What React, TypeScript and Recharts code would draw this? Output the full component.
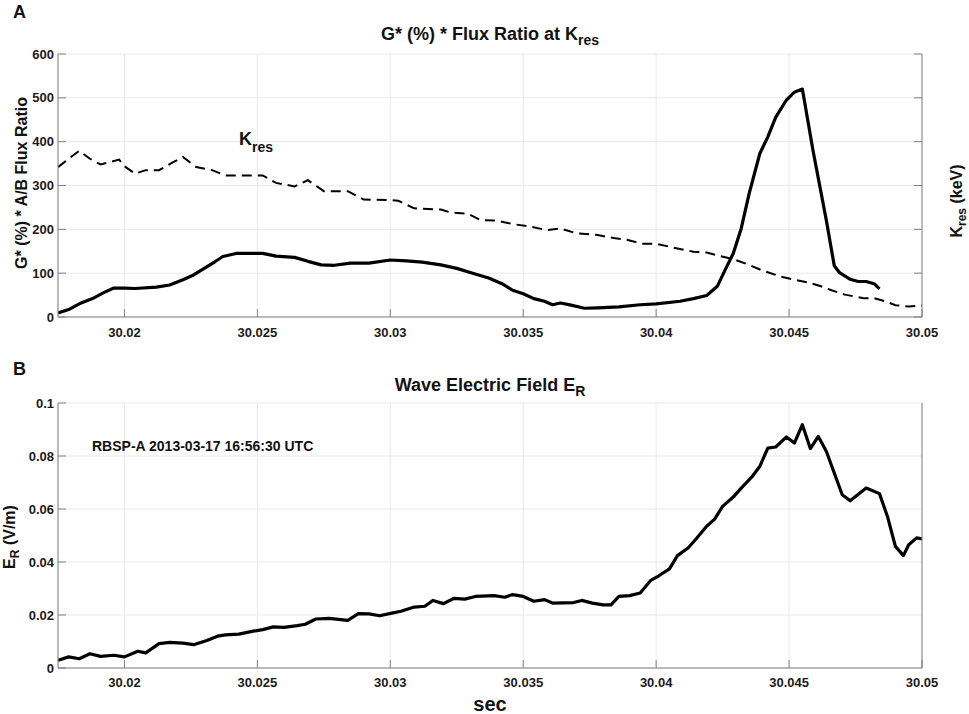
import React from 'react';
import { LineChart, Line, XAxis, YAxis, CartesianGrid } from 'recharts';

const FONT = '"Liberation Sans", Arial, Helvetica, sans-serif';
const AXIS = '#808080';
const GRID = '#e9e9e9';

const xDomain: [number, number] = [30.0175, 30.05];
const xTicks = [30.02, 30.025, 30.03, 30.035, 30.04, 30.045, 30.05];
const yTicksTop = [0, 100, 200, 300, 400, 500, 600];
const yTicksBottom = [0, 0.02, 0.04, 0.06, 0.08, 0.1];

// Panel A: G* (%) * A/B flux ratio (solid)
const timeG = [30.0175, 30.0179, 30.0183, 30.0188, 30.0192, 30.0196, 30.02, 30.0204, 30.0212, 30.0217,
  30.0222, 30.0226, 30.023, 30.0234, 30.0237, 30.0242, 30.0252, 30.0257, 30.0264, 30.0269,
  30.0274, 30.0279, 30.0285, 30.0292, 30.03, 30.0306, 30.0312, 30.0319, 30.0325, 30.0331,
  30.0337, 30.0342, 30.0346, 30.035, 30.0354, 30.0358, 30.0361, 30.0364, 30.0368, 30.0373,
  30.0378, 30.0386, 30.0394, 30.04, 30.0409, 30.0414, 30.0419, 30.0423, 30.0426, 30.0429,
  30.0432, 30.0435, 30.0439, 30.0442, 30.0445, 30.0449, 30.0452, 30.0455, 30.0459, 30.0464,
  30.0467, 30.0469, 30.0473, 30.0476, 30.0479, 30.0482, 30.0484];
const gStar = [9, 17, 30, 42, 55, 66, 66, 65, 68, 73,
  85, 96, 111, 126, 138, 145, 145, 139, 136, 127,
  119, 118, 123, 123, 130, 128, 125, 119, 111, 100,
  89, 76, 61, 53, 42, 36, 28, 32, 27, 20,
  21, 23, 28, 30, 36, 42, 49, 70, 108, 145,
  202, 282, 373, 411, 456, 495, 513, 520, 380, 221,
  117, 101, 86, 81, 81, 76, 64];

// Panel A: K_res (dashed)
const timeK = [30.0175, 30.0179, 30.0183, 30.0187, 30.0191, 30.0198, 30.02, 30.0204, 30.0208, 30.0213,
  30.0218, 30.0222, 30.0227, 30.0233, 30.0238, 30.0245, 30.0252, 30.0257, 30.0264, 30.0269,
  30.0275, 30.0284, 30.029, 30.03, 30.0303, 30.0309, 30.0319, 30.0323, 30.0329, 30.0334,
  30.034, 30.0346, 30.0353, 30.0359, 30.0364, 30.037, 30.0378, 30.0384, 30.0389, 30.0395,
  30.04, 30.0406, 30.0414, 30.0419, 30.0424, 30.0429, 30.0434, 30.044, 30.0447, 30.0452,
  30.0457, 30.0462, 30.0466, 30.0471, 30.0478, 30.0482, 30.0486, 30.049, 30.0495, 30.05];
const kRes = [342, 361, 379, 361, 348, 359, 344, 327, 335, 335,
  352, 365, 342, 335, 323, 323, 323, 306, 298, 312,
  287, 287, 268, 267, 265, 248, 245, 238, 236, 221,
  220, 212, 206, 198, 202, 191, 187, 180, 176, 167,
  167, 159, 149, 147, 139, 132, 121, 106, 92, 85,
  79, 70, 61, 51, 43, 43, 36, 27, 24, 26];

// Panel B: wave electric field E_R
const timeE = [30.0175, 30.0179, 30.0183, 30.0187, 30.0191, 30.0196, 30.02, 30.0205, 30.0208, 30.0213,
  30.0217, 30.0222, 30.0226, 30.0231, 30.0235, 30.0238, 30.0243, 30.0248, 30.0252, 30.0256,
  30.026, 30.0265, 30.0268, 30.0272, 30.0277, 30.0284, 30.0288, 30.0292, 30.0296, 30.0301,
  30.0304, 30.0309, 30.0313, 30.0316, 30.032, 30.0324, 30.0328, 30.0332, 30.0339, 30.0343,
  30.0346, 30.035, 30.0354, 30.0358, 30.0361, 30.0369, 30.0372, 30.0376, 30.038, 30.0383,
  30.0386, 30.039, 30.0394, 30.0398, 30.0401, 30.0405, 30.0408, 30.0412, 30.0415, 30.0419,
  30.0422, 30.0425, 30.0429, 30.0432, 30.0436, 30.0439, 30.0442, 30.0445, 30.0449, 30.0452,
  30.0455, 30.0458, 30.0461, 30.0464, 30.047, 30.0473, 30.0479, 30.0484, 30.0487, 30.049,
  30.0493, 30.0495, 30.0498, 30.05];
const eR = [0.0029, 0.0042, 0.0035, 0.0054, 0.0044, 0.0048, 0.0042, 0.0063, 0.0057, 0.0092,
  0.0097, 0.0094, 0.0088, 0.0104, 0.012, 0.0125, 0.0128, 0.0138, 0.0145, 0.0155,
  0.0153, 0.016, 0.0165, 0.0185, 0.0187, 0.018, 0.0205, 0.0204, 0.0197, 0.0208,
  0.0214, 0.023, 0.0233, 0.0255, 0.0243, 0.0263, 0.026, 0.027, 0.0273, 0.0267,
  0.0277, 0.027, 0.0252, 0.0258, 0.0245, 0.0247, 0.0255, 0.0245, 0.0238, 0.0238,
  0.027, 0.0273, 0.0283, 0.0331, 0.0348, 0.0374, 0.0424, 0.0453, 0.0487, 0.0535,
  0.0562, 0.061, 0.0645, 0.0679, 0.0721, 0.0761, 0.083, 0.0834, 0.0872, 0.0849,
  0.0918, 0.0828, 0.0874, 0.0818, 0.0654, 0.0631, 0.0679, 0.0658, 0.0572, 0.0459,
  0.0424, 0.0465, 0.0491, 0.0487];

const gData = timeG.map((t, i) => ({ t, v: gStar[i] }));
const kData = timeK.map((t, i) => ({ t, v: kRes[i] }));
const eData = timeE.map((t, i) => ({ t, v: eR[i] }));

const tickStyle = { fill: '#1a1a1a', fontSize: 13, fontWeight: 700, fontFamily: FONT };
const noLabel = () => '';

function TopPanel() {
  return (
    <LineChart width={969} height={340} margin={{ top: 54, right: 0, bottom: 0, left: 0 }}>
      <CartesianGrid stroke={GRID} strokeWidth={1} />
      <XAxis dataKey="t" type="number" domain={xDomain} ticks={xTicks} allowDataOverflow interval={0}
        height={23} tickSize={-8} tickMargin={19} axisLine={{ stroke: AXIS }} tickLine={{ stroke: AXIS }}
        tick={tickStyle} />
      <XAxis xAxisId="top" orientation="top" dataKey="t" type="number" domain={xDomain} ticks={xTicks}
        allowDataOverflow interval={0} height={0} tickSize={-8} tickFormatter={noLabel}
        axisLine={{ stroke: AXIS }} tickLine={{ stroke: AXIS }} tick={tickStyle} />
      <YAxis type="number" domain={[0, 600]} ticks={yTicksTop} interval={0} width={58} tickSize={-8}
        tickMargin={12} axisLine={{ stroke: AXIS }} tickLine={{ stroke: AXIS }} tick={tickStyle} />
      <YAxis yAxisId="right" orientation="right" type="number" domain={[0, 600]} ticks={yTicksTop}
        interval={0} width={47} tickSize={-8} tickFormatter={noLabel} axisLine={{ stroke: AXIS }}
        tickLine={{ stroke: AXIS }} tick={tickStyle} />
      <Line data={kData} dataKey="v" yAxisId="right" type="linear" stroke="#000" strokeWidth={2}
        strokeDasharray="10 6" dot={false} isAnimationActive={false} />
      <Line data={gData} dataKey="v" type="linear" stroke="#000" strokeWidth={3.2} dot={false}
        strokeLinejoin="round" isAnimationActive={false} />
    </LineChart>
  );
}

function BottomPanel() {
  return (
    <LineChart width={969} height={374} margin={{ top: 63, right: 0, bottom: 0, left: 0 }}>
      <CartesianGrid stroke={GRID} strokeWidth={1} />
      <XAxis dataKey="t" type="number" domain={xDomain} ticks={xTicks} allowDataOverflow interval={0}
        height={46} tickSize={-8} tickMargin={18} axisLine={{ stroke: AXIS }} tickLine={{ stroke: AXIS }}
        tick={tickStyle} />
      <XAxis xAxisId="top" orientation="top" dataKey="t" type="number" domain={xDomain} ticks={xTicks}
        allowDataOverflow interval={0} height={0} tickSize={-8} tickFormatter={noLabel}
        axisLine={{ stroke: AXIS }} tickLine={{ stroke: AXIS }} tick={tickStyle} />
      <YAxis type="number" domain={[0, 0.1]} ticks={yTicksBottom} interval={0} width={58} tickSize={-8}
        tickMargin={12} axisLine={{ stroke: AXIS }} tickLine={{ stroke: AXIS }} tick={tickStyle} />
      <YAxis yAxisId="right" orientation="right" type="number" domain={[0, 0.1]} ticks={yTicksBottom}
        interval={0} width={47} tickSize={-8} tickFormatter={noLabel} axisLine={{ stroke: AXIS }}
        tickLine={{ stroke: AXIS }} tick={tickStyle} />
      <Line data={eData} dataKey="v" type="linear" stroke="#000" strokeWidth={3.2} dot={false}
        strokeLinejoin="round" isAnimationActive={false} />
    </LineChart>
  );
}

function Overlay() {
  const bold = { fontFamily: FONT, fontWeight: 700, fill: '#111' } as const;
  return (
    <svg width={969} height={714} style={{ position: 'absolute', left: 0, top: 0, pointerEvents: 'none' }}>
      <text x={13} y={18} fontSize={18} {...bold}>A</text>
      <text x={490} y={40} fontSize={18} textAnchor="middle" {...bold}>
        G* (%) * Flux Ratio at K<tspan dy={5} fontSize={14}>res</tspan>
      </text>
      <text x={239} y={145} fontSize={18} {...bold}>
        K<tspan dy={7} fontSize={14}>res</tspan>
      </text>
      <text x={26.5} y={183} fontSize={16} textAnchor="middle" transform="rotate(-90 26.5 183)" {...bold}>
        G* (%) * A/B Flux Ratio
      </text>
      <text x={962} y={201} fontSize={16} textAnchor="middle" transform="rotate(-90 962 201)" {...bold}>
        K<tspan dy={4} fontSize={12}>res</tspan><tspan dy={-4}> (keV)</tspan>
      </text>

      <text x={13} y={375} fontSize={18} {...bold}>B</text>
      <text x={490} y={391} fontSize={18} textAnchor="middle" {...bold}>
        Wave Electric Field E<tspan dy={5} fontSize={14}>R</tspan>
      </text>
      <text x={92} y={451} fontSize={14} {...bold}>RBSP-A 2013-03-17 16:56:30 UTC</text>
      <text x={15} y={537} fontSize={16} textAnchor="middle" transform="rotate(-90 15 537)" {...bold}>
        E<tspan dy={4} fontSize={12}>R</tspan><tspan dy={-4}> (V/m)</tspan>
      </text>
      <text x={490} y={711} fontSize={20} textAnchor="middle" {...bold}>sec</text>
    </svg>
  );
}

export default function App() {
  return (
    <div style={{ position: 'absolute', left: 0, top: 0, width: 969, height: 714, background: '#fff' }}>
      <div style={{ position: 'absolute', left: 0, top: 0 }}>
        <TopPanel />
      </div>
      <div style={{ position: 'absolute', left: 0, top: 340 }}>
        <BottomPanel />
      </div>
      <Overlay />
    </div>
  );
}
